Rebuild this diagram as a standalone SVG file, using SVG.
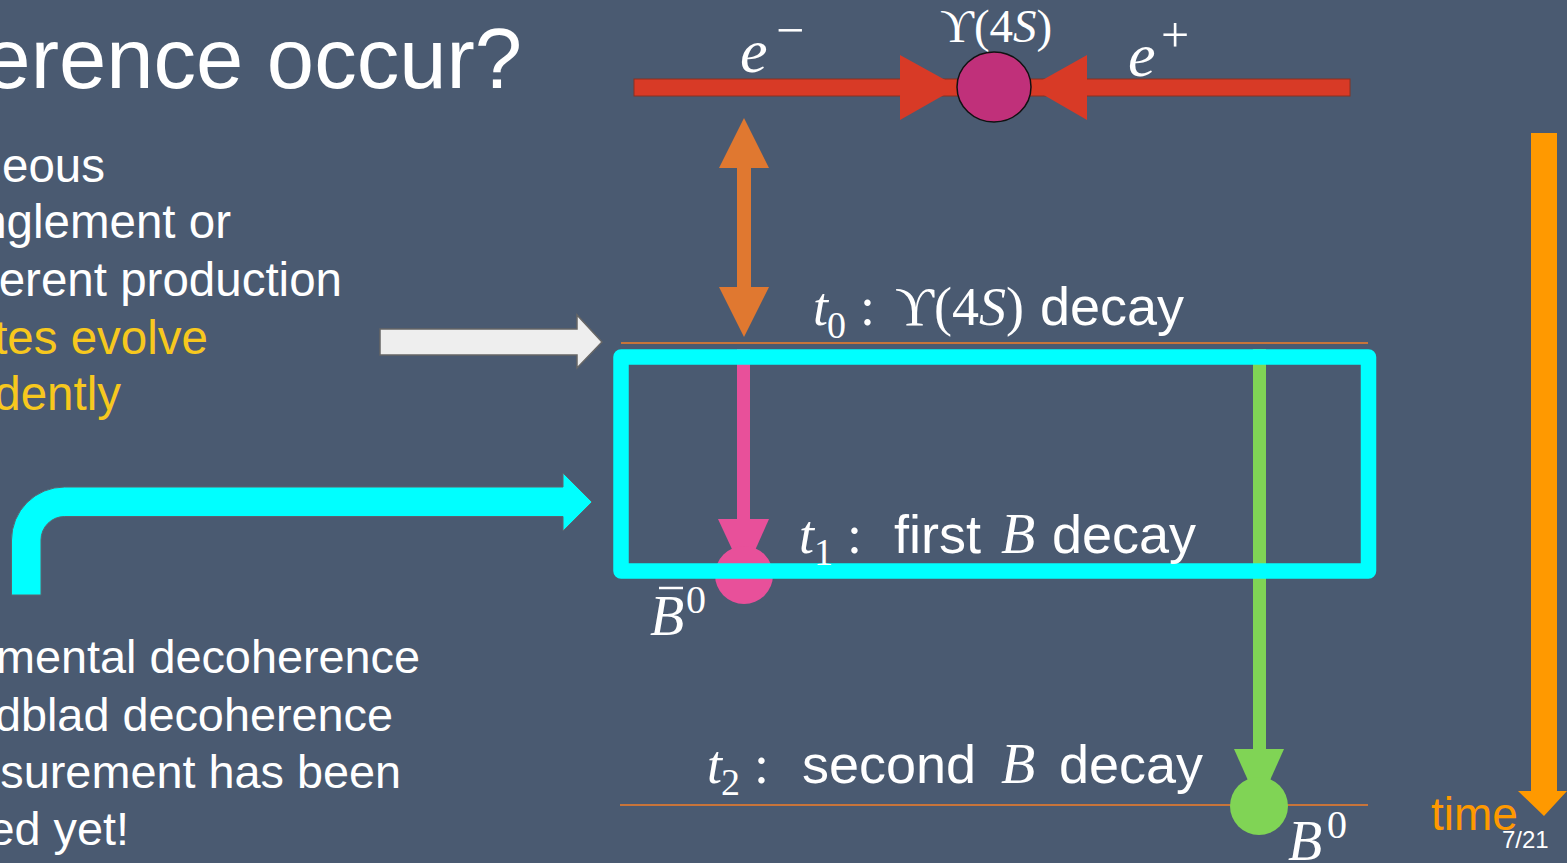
<svg xmlns="http://www.w3.org/2000/svg" width="1567" height="863" viewBox="0 0 1567 863">
<style>
.sans{font-family:"Liberation Sans",Arial,sans-serif;fill:#ffffff}
.yel{fill:#f7c81e}
.ser{font-family:"Liberation Serif","DejaVu Serif","Times New Roman",serif;fill:#ffffff}
.it{font-style:italic}
.tl{stroke:#c8743a;stroke-width:2}
</style>
<rect x="0" y="0" width="1567" height="863" fill="#4a5a71"/>

<g id="left-text">
<text class="sans" x="522" y="88" font-size="85" text-anchor="end">erence occur?</text>
<g font-size="47.5" text-anchor="end">
<text class="sans" x="105" y="182">eous</text>
<text class="sans" x="231" y="238">nglement or</text>
<text class="sans" x="342" y="296">erent production</text>
<text class="sans yel" x="208" y="354">tes evolve</text>
<text class="sans yel" x="121" y="410">dently</text>
</g>
<g font-size="46.8" text-anchor="end">
<text class="sans" x="420" y="673">mental decoherence</text>
<text class="sans" x="393" y="731">dblad decoherence</text>
<text class="sans" x="401" y="788">surement has been</text>
<text class="sans" x="129" y="845">ed yet!</text>
</g>
</g>

<g id="white-arrow">
<path d="M380,329 H577 V315 L602,342 L577,368 V355 H380 Z" fill="#eeeeee" stroke="#666666" stroke-width="1.5"/>
</g>

<g id="cyan-bent-arrow">
<path d="M11.5,595 V540 A53,53 0 0 1 64.5,487 H563 V473 L592,502 L563,531 V516.5 H64.5 A23.5,23.5 0 0 0 41,540 V595 Z" fill="#00ffff" stroke="#5a6470" stroke-width="1"/>
</g>

<g id="beams">
<rect x="634" y="79" width="716" height="17" fill="#d83a26" stroke="#8a3020" stroke-width="1"/>
<polygon points="900,55 958,87 900,120" fill="#d83a26"/>
<polygon points="1087,55 1030,87 1087,120" fill="#d83a26"/>
</g>

<g id="upsilon-node">
<ellipse cx="994" cy="87" rx="37" ry="35" fill="#c0307a" stroke="#111111" stroke-width="1.5"/>
<text class="ser" x="940" y="42" font-size="47">ϒ(4<tspan class="it">S</tspan>)</text>
</g>

<g id="labels-e">
<text class="ser it" x="740" y="72" font-size="62">e</text>
<text class="ser" x="776" y="47" font-size="50">−</text>
<text class="ser it" x="1128" y="76" font-size="62">e</text>
<text class="ser" x="1161" y="52" font-size="50">+</text>
</g>

<g id="time-lines">
<line class="tl" x1="621" y1="343" x2="1368" y2="343"/>
<line class="tl" x1="620" y1="805" x2="1368" y2="805"/>
</g>

<g id="connectors">
<path d="M737,168 H719 L744,118 L769,168 H751 V287 H769 L744,337 L719,287 H737 Z" fill="#e07830"/>
<rect x="737" y="349" width="13" height="175" fill="#e8509a"/>
<polygon points="718,519 769,519 744,575" fill="#e8509a"/>
<rect x="1253" y="349" width="13" height="405" fill="#80d455"/>
<polygon points="1234,749 1284,749 1259,805" fill="#80d455"/>
</g>

<g id="bbar-node">
<circle cx="744" cy="575" r="29" fill="#e8509a"/>
<text class="ser it" x="650" y="635" font-size="56">B</text>
<line x1="659" y1="588" x2="683" y2="588" stroke="#ffffff" stroke-width="2.5"/>
<text class="ser" x="686" y="613" font-size="40">0</text>
</g>

<g id="b-node">
<circle cx="1259" cy="806" r="29" fill="#80d455"/>
<text class="ser it" x="1288" y="860" font-size="56">B</text>
<text class="ser" x="1327" y="838" font-size="40">0</text>
</g>

<g id="cyan-box">
<rect x="621" y="357" width="747.5" height="214" fill="none" stroke="#00ffff" stroke-width="15.5" stroke-linejoin="round"/>
</g>

<g id="t0-label">
<text class="ser it" x="813" y="325" font-size="54">t</text>
<text class="ser" x="827" y="338" font-size="38">0</text>
<text class="ser" x="860" y="325" font-size="54">:</text>
<text class="ser" x="895" y="325" font-size="54">ϒ(4<tspan class="it">S</tspan>)</text>
<text class="sans" x="1040" y="325" font-size="54">decay</text>
</g>

<g id="t1-label">
<text class="ser it" x="799" y="553" font-size="54">t</text>
<text class="ser" x="814" y="565" font-size="38">1</text>
<text class="ser" x="847" y="553" font-size="54">:</text>
<text class="sans" x="894" y="553" font-size="54">first</text>
<text class="ser it" x="1001" y="553" font-size="56">B</text>
<text class="sans" x="1052" y="553" font-size="54">decay</text>
</g>

<g id="t2-label">
<text class="ser it" x="707" y="783" font-size="54">t</text>
<text class="ser" x="721" y="795" font-size="38">2</text>
<text class="ser" x="754" y="783" font-size="54">:</text>
<text class="sans" x="802" y="783" font-size="54">second</text>
<text class="ser it" x="1001" y="783" font-size="56">B</text>
<text class="sans" x="1059" y="783" font-size="54">decay</text>
</g>

<g id="time-arrow">
<path d="M1531,133 H1557 V791 H1567 L1544,816 L1518,791 H1531 Z" fill="#ff9900"/>
<text class="sans" x="1431" y="830" font-size="46" style="fill:#ff9900">time</text>
<text class="sans" x="1502" y="848" font-size="24">7/21</text>
</g>
</svg>
